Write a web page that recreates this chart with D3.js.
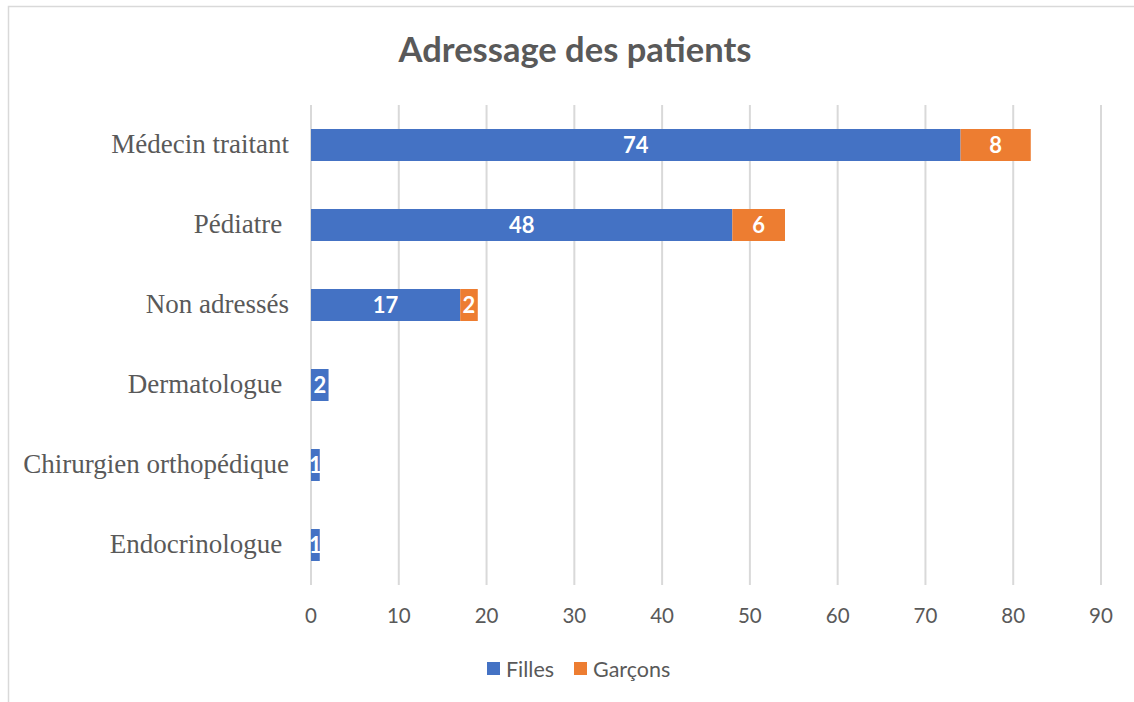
<!DOCTYPE html>
<html>
<head>
    <meta charset="utf-8" />
    <title>Adressage des patients</title>
    <script src="https://d3js.org/d3.v7.min.js"></script>
</head>
<style>
    body { margin: 0; background-color: white; }
    svg { display: block; }
    .cat { font-family: 'Liberation Serif', 'Times New Roman', serif; font-size: 27px; fill: #595959; white-space: pre; }
    .tick-lbl { font-family: Lato, 'Open Sans', sans-serif; font-size: 20.5px; fill: #595959; }
    .leg { font-family: Lato, 'Open Sans', sans-serif; font-size: 21.5px; fill: #595959; }
    .val { font-family: Lato, 'Open Sans', sans-serif; font-size: 22px; font-weight: bold; fill: white; }
</style>
<body>
    <div id="container"></div>

    <script>
        /* chart data */
        var categories = ["Médecin traitant", "Pédiatre ", "Non adressés", "Dermatologue ", "Chirurgien orthopédique", "Endocrinologue "];
        var filles = [74, 48, 17, 2, 1, 1];
        var garcons = [8, 6, 2, 0, 0, 0];
        var seriesNames = ["Filles", "Garçons"];
        var seriesColors = ["#4472C4", "#ED7D31"];
        var xTicks = [0, 10, 20, 30, 40, 50, 60, 70, 80, 90];

        var width = 1134, height = 702;

        var svg = d3.select("#container").append("svg")
            .attr("width", width).attr("height", height);

        // outer chart border (only top and left visible in the picture)
        svg.append("rect")
            .attr("x", 8.5).attr("y", 6.5)
            .attr("width", 1200).attr("height", 800)
            .attr("fill", "white")
            .attr("stroke", "#d9d9d9").attr("stroke-width", 1.5);

        svg.append("text")
            .text("Adressage des patients")
            .attr("x", 575).attr("y", 62)
            .attr("text-anchor", "middle")
            .style("font-family", "Lato, 'Open Sans', sans-serif")
            .style("font-size", "34.5px").style("font-weight", "bold")
            .style("fill", "#595959");

        var x = d3.scaleLinear().domain([0, 90]).range([311, 1101]);
        var y = d3.scaleBand().domain(categories).range([105, 585]).paddingInner(0.6).paddingOuter(0.3);

        // vertical gridlines
        svg.append("g").selectAll("line")
            .data(xTicks)
            .enter().append("line")
            .attr("x1", d => x(d)).attr("x2", d => x(d))
            .attr("y1", 105).attr("y2", 585)
            .attr("stroke", "#d9d9d9").attr("stroke-width", 2);

        // tick labels
        svg.append("g").selectAll("text")
            .data(xTicks)
            .enter().append("text")
            .attr("class", "tick-lbl")
            .attr("x", d => x(d)).attr("y", 623)
            .attr("text-anchor", "middle")
            .text(d => d);

        // category labels
        svg.append("g").selectAll("text")
            .data(categories)
            .enter().append("text")
            .attr("class", "cat")
            .attr("x", 289)
            .attr("y", d => y(d) + y.bandwidth() / 2 + 8)
            .attr("text-anchor", "end")
            .attr("xml:space", "preserve")
            .text(d => d);

        // stacked bars
        var rows = categories.map((c, i) => ({ cat: c, Filles: filles[i], "Garçons": garcons[i] }));
        var stack = d3.stack().keys(seriesNames)(rows);

        var layers = svg.append("g").selectAll("g")
            .data(stack)
            .enter().append("g")
            .attr("fill", (d, i) => seriesColors[i]);

        layers.selectAll("rect")
            .data(d => d.filter(s => s[1] - s[0] > 0))
            .enter().append("rect")
            .attr("x", d => x(d[0]))
            .attr("y", d => y(d.data.cat))
            .attr("width", d => x(d[1]) - x(d[0]))
            .attr("height", y.bandwidth());

        layers.selectAll("text")
            .data(d => d.filter(s => s[1] - s[0] > 0))
            .enter().append("text")
            .attr("class", "val")
            .attr("x", d => (x(d[0]) + x(d[1])) / 2)
            .attr("y", d => y(d.data.cat) + y.bandwidth() / 2 + 8)
            .attr("text-anchor", "middle")
            .text(d => d[1] - d[0]);

        // legend
        var legend = svg.append("g");
        var legX = [487, 574];
        seriesNames.forEach(function (name, i) {
            legend.append("rect")
                .attr("x", legX[i]).attr("y", 662)
                .attr("width", 13).attr("height", 13)
                .attr("fill", seriesColors[i]);
            legend.append("text")
                .attr("class", "leg")
                .attr("x", legX[i] + 19).attr("y", 677)
                .text(name);
        });
    </script>
</body>
</html>
